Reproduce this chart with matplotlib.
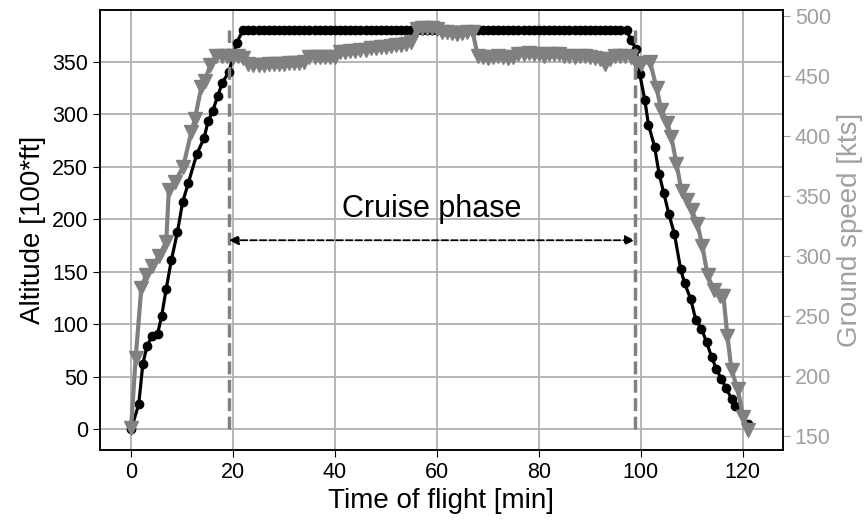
import matplotlib
matplotlib.use("Agg")
import matplotlib.pyplot as plt
import numpy as np

plt.rcParams['font.family'] = ['Liberation Sans', 'DejaVu Sans']

# altitude [100*ft] vs time [min]
t_alt = [0, 1.5, 2.3, 3.1, 4.1, 5.2, 6.0, 6.9, 7.9, 9.1, 10.1, 11.2, 12.9, 14.3, 15.1, 16.0, 17.0, 17.9, 19.2, 20.7,
         22, 23, 24, 25, 26, 27, 28, 29, 30, 31, 32, 33, 34, 35, 36, 37, 38, 39, 40, 41, 42, 43, 44, 45, 46, 47,
         48, 49, 50, 51, 52, 53, 54, 55, 56, 57, 58, 59, 60, 61, 62, 63, 64, 65, 66, 67, 68, 69, 70, 71, 72, 73,
         74, 75, 76, 77, 78, 79, 80, 81, 82, 83, 84, 85, 86, 87, 88, 89, 90, 91, 92, 93, 94, 95, 96, 97.2,
         98.1, 99.1, 99.8, 100.8, 101.5, 102.7, 103.6, 104.5, 105.5, 106.6, 107.8, 108.6, 109.8, 110.8, 111.9,
         112.9, 113.9, 114.8, 115.8, 116.8, 117.8, 118.4, 121.0]
alt = [0, 24, 62, 79, 89, 91, 108, 134, 161, 188, 216, 234, 262, 277, 293, 303, 317, 330, 340, 368,
       380, 380, 380, 380, 380, 380, 380, 380, 380, 380, 380, 380, 380, 380, 380, 380, 380, 380, 380, 380, 380,
       380, 380, 380, 380, 380, 380, 380, 380, 380, 380, 380, 380, 380, 380, 380, 380, 380, 380, 380, 380, 380,
       380, 380, 380, 380, 380, 380, 380, 380, 380, 380, 380, 380, 380, 380, 380, 380, 380, 380, 380, 380, 380,
       380, 380, 380, 380, 380, 380, 380, 380, 380, 380, 380, 380, 380,
       370, 362, 338, 313, 290, 269, 243, 225, 205, 186, 153, 139, 124, 104, 96,
       83, 69, 58, 48, 39, 29, 22, 5]

# ground speed [kts] vs time [min]
t_gs = [0, 0.9, 2.0, 2.9, 4.2, 5.5, 6.9, 7.4, 8.6, 10.2, 11.8, 12.5, 13.8, 14.5, 15.5, 16.7, 17.8, 18.9, 20.0, 21.0, 22.0,
        23, 24, 25, 26, 27, 28, 29, 30, 31, 32, 33, 34, 35, 36, 37, 38, 39, 40, 41, 42, 43, 44, 45, 46, 47, 48,
        49, 50, 51, 52, 53, 54, 55, 56, 57, 58, 59, 60, 61, 62, 63, 64, 65, 66, 67, 68, 69, 70, 71, 72, 73, 74,
        75, 76, 77, 78, 79, 80, 81, 82, 83, 84, 85, 86, 87, 88, 89, 90, 91, 92, 93, 94, 95, 96, 97, 98, 99, 100,
        101.8, 103.1, 104.0, 105.2, 106.0, 107.0, 108.0, 109.0, 110.0, 111.1, 112.1, 113.1, 114.3, 115.5, 116.2,
        117.0, 117.8, 119.0, 120.1, 121.0]
gs = [157, 215, 273, 284, 292, 300, 312, 355, 362, 374, 403, 414, 441, 446, 459, 467, 467, 467, 466, 467, 465,
      460, 459, 459, 459, 460, 460, 460, 460, 461, 461, 461, 462, 466, 466, 466, 466, 466, 466, 470, 470, 471,
      471, 472, 472, 473, 473, 474, 474, 475, 476, 476, 477, 478, 489, 490, 490, 490, 489, 487, 487, 486, 485,
      486, 487, 487, 467, 466, 465, 466, 467, 466, 465, 466, 468, 468, 469, 468, 468, 467, 468, 468, 468, 467,
      467, 466, 467, 467, 466, 465, 464, 460, 464, 467, 467, 467, 466, 461, 460,
      462, 440, 422, 411, 399, 377, 354, 347, 338, 327, 308, 284, 272, 267, 267,
      233, 205, 189, 166, 155]

cruise_start = 19.2
cruise_end = 98.8

fig = plt.figure(figsize=(8.65, 5.21), dpi=100)
ax = fig.add_axes([0.1156, 0.1363, 0.7896, 0.8445])
ax2 = ax.twinx()

ax.plot(t_alt, alt, '-o', color='black', lw=2.3, markersize=6)
ax2.plot(t_gs, gs, '-v', color='gray', lw=3, markersize=10)

ax.vlines([cruise_start, cruise_end], 0, 380, colors='gray', linestyles='--', lw=2.5)
ax.annotate('', xy=(cruise_end, 180), xytext=(cruise_start, 180),
            arrowprops=dict(arrowstyle='<|-|>', linestyle='--', color='black', lw=1.3,
                            mutation_scale=14, shrinkA=0, shrinkB=0))
ax.text((cruise_start + cruise_end) / 2, 210, 'Cruise phase', fontsize=22, ha='center', va='center')

ax.set_xlim(-6.1, 127.9)
ax.set_ylim(-19.5, 399)
ax2.set_ylim(138.3, 505)
ax.set_xticks(np.arange(0, 121, 20))
ax.set_yticks(np.arange(0, 351, 50))
ax2.set_yticks(np.arange(150, 501, 50))
ax.grid(True, color='#b0b0b0', lw=1.3)

ax.set_xlabel('Time of flight [min]', fontsize=20)
ax.set_ylabel('Altitude [100*ft]', fontsize=20)
ax2.set_ylabel('Ground speed [kts]', fontsize=20, color='#a0a0a0')
ax.tick_params(labelsize=15.5, length=5)
ax2.tick_params(labelsize=15.5, length=5, colors='#a0a0a0')
for a in (ax, ax2):
    for s in a.spines.values():
        s.set_linewidth(1.1)

fig.savefig('out.png', dpi=100)
